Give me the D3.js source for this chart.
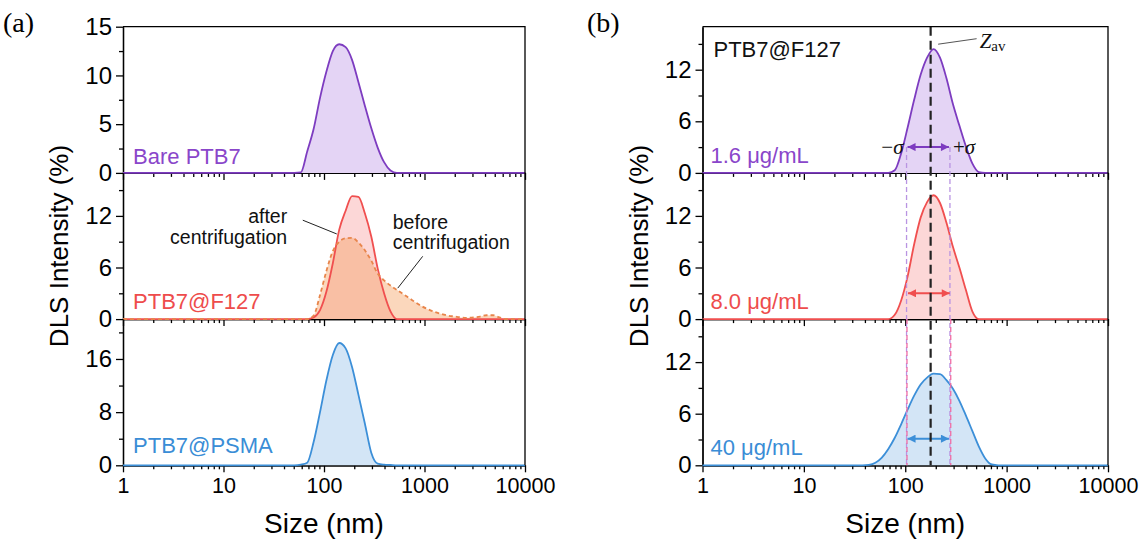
<!DOCTYPE html>
<html>
<head>
<meta charset="utf-8">
<script src="https://cdn.jsdelivr.net/npm/d3@7"></script>
<style>
body{margin:0;background:#fff}
svg{display:block}
</style>
</head>
<body>
<svg id="chart" width="1142" height="544"></svg>
<script>
// DLS size bins (nm), shared by every curve
var sizeBins = [37.84, 43.82, 50.75, 58.77, 68.06, 78.82, 91.28, 105.7, 122.4, 141.8,
    164.2, 190.1, 220.2, 255.0, 295.3, 342.0, 396.1, 458.7, 531.2, 615.1,
    712.4, 825.0, 955.4, 1106, 1281, 1484, 1718, 1990, 2305, 2669,
    3091, 3580, 4145, 4801, 5560, 6439, 7456, 8635, 10000];

// panel (a) intensities (%)
var barePTB7 = [0, 0, 0, 0.05, 2.2, 4.5, 7.7, 10.4, 12.5, 13.2,
    12.9, 11.6, 9.3, 6.9, 4.6, 2.6, 1.1, 0.25, 0, 0,
    0, 0, 0, 0, 0, 0, 0, 0, 0, 0,
    0, 0, 0, 0, 0, 0, 0, 0, 0];
var f127After = [0, 0, 0, 0, 0, 0.2, 1.05, 3.2, 6.5, 10.4,
    12.6, 14.3, 14.2, 12.3, 9.6, 5.9, 3.0, 0.9, 0, 0,
    0, 0, 0, 0, 0, 0, 0, 0, 0, 0,
    0, 0, 0, 0, 0, 0, 0, 0, 0];
var f127Before = [0, 0, 0, 0, 0, 0.4, 2.8, 5.6, 7.9, 9.0,
    9.4, 9.45, 8.9, 8.0, 6.8, 5.3, 4.5, 3.9, 3.4, 2.9,
    2.4, 1.9, 1.45, 1.1, 0.8, 0.6, 0.4, 0.3, 0.2, 0.15,
    0.2, 0.3, 0.45, 0.45, 0.2, 0, 0, 0, 0];
var psma = [0, 0, 0, 0.1, 0.4, 3.5, 8.0, 12.8, 16.6, 18.4,
    17.6, 14.8, 10.6, 6.3, 1.9, 0.25, 0.1, 0.05, 0, 0,
    0, 0, 0, 0, 0, 0, 0, 0, 0, 0,
    0, 0, 0, 0, 0, 0, 0, 0, 0];

// panel (b) intensities (%) for each PTB7@F127 concentration
var conc16 = [0, 0, 0, 0, 0, 0.3, 2.3, 5.3, 8.5, 11.4,
    13.4, 14.4, 13.4, 11.0, 8.0, 5.5, 3.1, 1.1, 0.1, 0,
    0, 0, 0, 0, 0, 0, 0, 0, 0, 0,
    0, 0, 0, 0, 0, 0, 0, 0, 0];
var conc80 = [0, 0, 0, 0, 0, 0.5, 2.2, 5.0, 8.7, 11.8,
    13.6, 14.4, 13.5, 11.2, 8.4, 6.0, 3.4, 0.9, 0, 0,
    0, 0, 0, 0, 0, 0, 0, 0, 0, 0,
    0, 0, 0, 0, 0, 0, 0, 0, 0];
var conc40 = [0, 0.05, 0.3, 0.9, 1.9, 3.2, 4.8, 6.5, 8.1, 9.4,
    10.2, 10.65, 10.6, 9.9, 8.9, 7.5, 5.8, 4.0, 2.2, 0.8,
    0.1, 0, 0, 0, 0, 0, 0, 0, 0, 0,
    0, 0, 0, 0, 0, 0, 0, 0, 0];

// z-average and +/- sigma (nm)
var zAv = 178;
var sigmaLo = [103, 104, 103];
var sigmaHi = [276, 281, 276];
var arrowLevel = [3, 3, 3.1];

// axes
var xTicks = [1, 10, 100, 1000, 10000];
var yMaxA = [15, 17, 22];
var yTicksA = [[0, 5, 10, 15], [0, 6, 12], [0, 8, 16]];
var yMinorA = [[2.5, 7.5, 12.5], [3, 9, 15], [4, 12, 20]];
var yMaxB = 17;
var yTicksB = [0, 6, 12];
var yMinorB = [3, 9, 15];

var labelsA = ['Bare PTB7', 'PTB7@F127', 'PTB7@PSMA'];
var labelsB = ['1.6 \u03bcg/mL', '8.0 \u03bcg/mL', '40 \u03bcg/mL'];

var purple = {line: '#7d3cc0', fill: '#e4d4f5', text: '#8a46ca'};
var red = {line: '#f04f4f', fill: '#fcd7d7', text: '#ee4c4c'};
var orange = {line: '#e8854b', fill: '#f59a58'};
var blue = {line: '#3c8fd8', fill: '#d3e5f6', text: '#3a8dd6'};
var colorsB = [purple, red, blue];

var SANS = 'Liberation Sans, Arial, sans-serif';
var SERIF = 'Liberation Serif, Times New Roman, serif';

var svg = d3.select('#chart');
var tops = [26.7, 172.9, 319.1], H = 146.2;

// arrow heads
var defs = svg.append('defs');
[purple, red, blue].forEach(function(c, i){
    defs.append('marker')
        .attr('id', 'arr' + i)
        .attr('viewBox', '0 0 10 10')
        .attr('refX', 10).attr('refY', 5)
        .attr('markerWidth', 9).attr('markerHeight', 8)
        .attr('markerUnits', 'userSpaceOnUse')
        .attr('orient', 'auto-start-reverse')
        .append('path').attr('d', 'M0,0L10,5L0,10z').attr('fill', c.line);
});

function makePanel(xr, top, yMax, yTicks, yMinor, last){
    var x = d3.scaleLog().domain([1, 10000]).range(xr);
    var y = d3.scaleLinear().domain([0, yMax]).range([top + H, top]);
    var g = svg.append('g');

    var left = g.append('g').attr('transform', 'translate(' + xr[0] + ',0)')
        .call(d3.axisLeft(y).tickValues(yTicks).tickSize(7).tickSizeOuter(0).tickPadding(4));
    left.selectAll('text').attr('font-size', 24).attr('font-family', SANS).attr('fill', '#000');
    g.append('g').attr('transform', 'translate(' + xr[0] + ',0)')
        .call(d3.axisLeft(y).tickValues(yMinor).tickSize(4).tickSizeOuter(0).tickFormat(''));

    // minor ticks 2..9 of each decade, from the log scale itself
    var minorX = x.ticks().filter(function(v){ return Math.abs(Math.log10(v) % 1) > 1e-6; });
    var bottom = g.append('g').attr('transform', 'translate(0,' + (top + H) + ')')
        .call(d3.axisBottom(x).tickValues(xTicks).tickSize(7).tickSizeOuter(0).tickPadding(5)
            .tickFormat(last ? d3.format('d') : ''));
    bottom.selectAll('text').attr('font-size', 21.5).attr('font-family', SANS).attr('fill', '#000');
    g.append('g').attr('transform', 'translate(0,' + (top + H) + ')')
        .call(d3.axisBottom(x).tickValues(minorX).tickSize(4).tickSizeOuter(0).tickFormat(''));

    g.selectAll('.domain, .tick line').attr('stroke', '#000').attr('stroke-width', 1.3);
    return {x: x, y: y, g: g};
}

// draws the fill now, returns a function that draws the outline (so lines can go on top)
function drawCurve(p, vals, c, opts){
    opts = opts || {};
    var data = [[1, 0]].concat(sizeBins.map(function(s, i){ return [s, vals[i]]; }));
    var area = d3.area().x(function(d){ return p.x(d[0]); })
        .y0(p.y(0)).y1(function(d){ return p.y(d[1]); }).curve(d3.curveMonotoneX);
    var line = d3.line().x(function(d){ return p.x(d[0]); })
        .y(function(d){ return p.y(d[1]); }).curve(d3.curveMonotoneX);
    var fillSel = p.g.append('path').datum(data).attr('d', area).attr('fill', c.fill);
    if(opts.fillOpacity){ fillSel.attr('fill-opacity', opts.fillOpacity); }
    return function(){
        var l = p.g.append('path').datum(data).attr('d', line).attr('fill', 'none')
            .attr('stroke', c.line).attr('stroke-width', 1.8).attr('stroke-linejoin', 'round');
        if(opts.dash){ l.attr('stroke-dasharray', opts.dash); }
    };
}

function label(x, y, s, size, color, anchor, family){
    return svg.append('text').attr('x', x).attr('y', y).text(s)
        .attr('font-size', size).attr('fill', color || '#000')
        .attr('text-anchor', anchor || 'start').attr('font-family', family || SANS);
}

// ---------- panel (a) ----------
var xA = [123, 525];
var pa = [0, 1, 2].map(function(i){
    return makePanel(xA, tops[i], yMaxA[i], yTicksA[i], yMinorA[i], i == 2);
});
drawCurve(pa[0], barePTB7, purple)();
var afterLine = drawCurve(pa[1], f127After, red);
var beforeLine = drawCurve(pa[1], f127Before, orange, {fillOpacity: 0.4, dash: '4,3'});
afterLine();
beforeLine();
drawCurve(pa[2], psma, blue)();

[purple, red, blue].forEach(function(c, i){
    label(pa[i].x(1.26), pa[i].y(0) - (i == 0 ? 8.5 : i == 1 ? 10.5 : 12.5), labelsA[i], 22, c.text);
});

// annotations in the middle panel
var pm = pa[1];
label(pm.x(43), pm.y(11.2), 'after', 19.5, '#111', 'end');
label(pm.x(43), pm.y(8.7), 'centrifugation', 19.5, '#111', 'end');
label(pm.x(483), pm.y(10.5), 'before', 19.5, '#111', 'start');
label(pm.x(483), pm.y(8.15), 'centrifugation', 19.5, '#111', 'start');
svg.append('line').attr('x1', pm.x(61.5)).attr('y1', pm.y(11.5)).attr('x2', pm.x(134)).attr('y2', pm.y(9.9))
    .attr('stroke', '#222').attr('stroke-width', 1);
svg.append('line').attr('x1', pm.x(960)).attr('y1', pm.y(7.3)).attr('x2', pm.x(542)).attr('y2', pm.y(3.6))
    .attr('stroke', '#222').attr('stroke-width', 1);

// ---------- panel (b) ----------
var xB = [702.5, 1108];
var pb = [0, 1, 2].map(function(i){
    return makePanel(xB, tops[i], yMaxB, yTicksB, yMinorB, i == 2);
});
[conc16, conc80, conc40].forEach(function(vals, i){
    drawCurve(pb[i], vals, colorsB[i])();
});

// sigma guide lines
var bottomY = tops[2] + H;
svg.append('g').selectAll('line').data([sigmaLo[0], sigmaHi[0]]).enter().append('line')
    .attr('x1', function(d){ return pb[0].x(d); }).attr('x2', function(d){ return pb[0].x(d); })
    .attr('y1', pb[0].y(arrowLevel[0])).attr('y2', bottomY)
    .attr('stroke', '#b994e2').attr('stroke-width', 1.3).attr('stroke-dasharray', '5,3');
svg.append('g').selectAll('line').data([sigmaLo[1], sigmaHi[1]]).enter().append('line')
    .attr('x1', function(d){ return pb[1].x(d); }).attr('x2', function(d){ return pb[1].x(d); })
    .attr('y1', tops[2]).attr('y2', bottomY)
    .attr('stroke', '#f06ca4').attr('stroke-width', 1.3).attr('stroke-dasharray', '5,3');

// sigma arrows
colorsB.forEach(function(c, i){
    svg.append('line')
        .attr('x1', pb[i].x(sigmaLo[i]) + 1).attr('x2', pb[i].x(sigmaHi[i]) - 1)
        .attr('y1', pb[i].y(arrowLevel[i])).attr('y2', pb[i].y(arrowLevel[i]))
        .attr('stroke', c.line).attr('stroke-width', 2)
        .attr('marker-start', 'url(#arr' + i + ')').attr('marker-end', 'url(#arr' + i + ')');
});

// z-average line
var xz = pb[0].x(zAv);
svg.append('line').attr('x1', xz).attr('x2', xz).attr('y1', tops[0]).attr('y2', bottomY)
    .attr('stroke', '#222').attr('stroke-width', 2.2).attr('stroke-dasharray', '9,5');

// sigma and Z labels
var ya = pb[0].y(arrowLevel[0]);
var sl = label(pb[0].x(sigmaLo[0]) - 3, ya + 7, '\u2212', 21, '#111', 'end', SERIF);
sl.append('tspan').attr('font-style', 'italic').text('\u03c3');
var sh = label(pb[0].x(sigmaHi[0]) + 3, ya + 7, '+', 21, '#111', 'start', SERIF);
sh.append('tspan').attr('font-style', 'italic').text('\u03c3');
svg.append('line').attr('x1', xz + 7.5).attr('y1', tops[0] + 17.5).attr('x2', xz + 46).attr('y2', tops[0] + 12)
    .attr('stroke', '#555').attr('stroke-width', 1);
var zl = label(xz + 49, tops[0] + 21, 'Z', 21, '#111', 'start', SERIF).attr('font-style', 'italic');
zl.append('tspan').attr('font-style', 'normal').attr('font-size', 15).attr('dy', 3).text('av');

label(xB[0] + 11, tops[0] + 30, 'PTB7@F127', 22, '#111');
colorsB.forEach(function(c, i){
    label(xB[0] + 8, pb[i].y(0) - 10, labelsB[i], 22, c.text);
});

// frames: top and right borders
[xA, xB].forEach(function(xr){
    svg.append('path')
        .attr('d', 'M' + xr[0] + ',' + tops[0] + 'H' + xr[1] + 'V' + bottomY)
        .attr('fill', 'none').attr('stroke', '#000').attr('stroke-width', 1.3);
});

// axis titles and panel letters
[xA, xB].forEach(function(xr){
    var cy = (tops[0] + bottomY) / 2;
    label(0, 0, 'DLS Intensity (%)', 26, '#000', 'middle')
        .attr('transform', 'translate(' + (xr[0] - 55) + ',' + cy + ') rotate(-90)');
    label((xr[0] + xr[1]) / 2, 533, 'Size (nm)', 28, '#000', 'middle');
});
label(3, 32, '(a)', 28, '#000', 'start', SERIF);
label(587, 32, '(b)', 28, '#000', 'start', SERIF);
</script>
</body>
</html>
